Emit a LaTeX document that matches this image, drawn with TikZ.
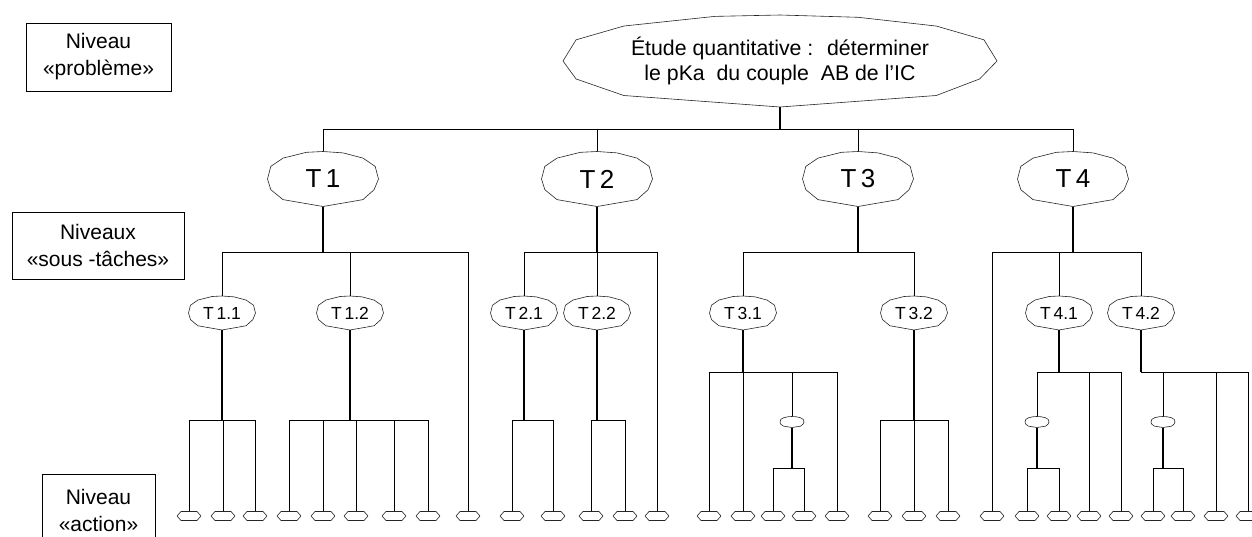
\documentclass[tikz,border=0pt]{standalone}
\usepackage{fontspec}
\setmainfont{Liberation Sans}
\usetikzlibrary{shapes.geometric}
\tikzset{
  lvl/.style={draw, line width=1pt, align=center, inner sep=0pt, font=\fontsize{21}{27}\selectfont},
  pe/.style={ellipse, inner sep=0pt, draw=none},
  topn/.style={pe, minimum width=434pt, minimum height=92pt, align=center, font=\fontsize{21.3}{25}\selectfont},
  tk/.style={pe, minimum width=111pt, minimum height=55pt, font=\fontsize{26}{30}\selectfont},
  sub/.style={pe, minimum width=67pt, minimum height=34pt, font=\fontsize{17.5}{20}\selectfont},
  midn/.style={pe, minimum width=24pt, minimum height=11pt},
  act/.style={rectangle, draw=none, inner sep=0pt, minimum width=24pt, minimum height=9pt},
  line/.style={line width=0.9pt},
  stem/.style={line width=1.6pt},
  outline/.style={line width=0.6pt, draw=black!85, line join=round},
}
% polygonal ellipse outline around a node: name, half width, half height
\newcommand\polyout[3]{\draw[outline, shift={(#1.center)}, xscale=#2, yscale=#3]
  (-1,0) -- (-0.94,-0.46) -- (-0.72,-0.76) -- (-0.30,-0.97) -- (0,-1) -- (0.36,-0.95)
  -- (0.72,-0.76) -- (0.94,-0.46) -- (1,0) -- (0.92,0.39) -- (0.72,0.75) -- (0,1)
  -- (-0.72,0.75) -- (-0.94,0.39) -- cycle;}
\begin{document}
\begin{tikzpicture}[x=1pt,y=-1pt]
\useasboundingbox (0,0) rectangle (1252,536);
\fill[white] (0,0) rectangle (1252,536);

% level labels
\node[lvl, minimum width=145pt, minimum height=68pt] (L1) at (98.5,57) {Niveau\\«problème»};
\node[lvl, minimum width=172pt, minimum height=67pt] (L2) at (98,245.5) {Niveaux\\«sous -tâches»};
\node[lvl, minimum width=113pt, minimum height=72pt] (L3) at (98.5,510) {Niveau\\«action»};

% problem
\node[topn] (P) at (780,61) {Étude quantitative :~ déterminer\\le pKa~ du couple~ AB de l’IC};

% tasks
\node[tk] (T1) at (323,179) {T\,1};
\node[tk] (T2) at (597,179) {T\,2};
\node[tk] (T3) at (858,179) {T\,3};
\node[tk] (T4) at (1073,179) {T\,4};

% sub-tasks
\node[sub] (T11) at (222,313) {T\,1.1};
\node[sub] (T12) at (350,313) {T\,1.2};
\node[sub] (T21) at (524,313) {T\,2.1};
\node[sub] (T22) at (597,313) {T\,2.2};
\node[sub] (T31) at (743,313) {T\,3.1};
\node[sub] (T32) at (914,313) {T\,3.2};
\node[sub] (T41) at (1059,313) {T\,4.1};
\node[sub] (T42) at (1141,313) {T\,4.2};

% intermediate small nodes
\node[midn] (M1) at (792,422) {};
\node[midn] (M2) at (1037,422) {};
\node[midn] (M3) at (1163,422) {};

% actions
\foreach \x [count=\i] in {189,223,255,289,323,356,394,428,468,512,553,591,625,657,709,743,773,804,837,880,914,948,992,1027,1059,1089,1121,1153,1183,1216,1248}
  \node[act] (a\i) at (\x,516) {};

% outlines
\polyout{P}{217}{46}
\foreach \n in {T1,T2,T3,T4} \polyout{\n}{55.5}{27.5};
\foreach \n in {T11,T12,T21,T22,T31,T32,T41,T42} \polyout{\n}{33.5}{17};
\foreach \n in {M1,M2,M3} \polyout{\n}{12}{5.5};
\foreach \i in {1,...,31}
  \draw[outline, shift={(a\i.center)}] (-12,0) -- (-8,-4.5) -- (8,-4.5) -- (12,0) -- (8,4.5) -- (-8,4.5) -- cycle;

% top level
\draw[stem] (P.south) -- (P.south |- 0,129);
\draw[line] (T1.north |- 0,129) -- (T4.north |- 0,129);
\foreach \n in {T1,T2,T3,T4} \draw[line] (\n.north) -- (\n.north |- 0,129);

% T1
\draw[stem] (T1.south) -- (T1.south |- 0,252);
\draw[line] (T11.north |- 0,252) -- (a9.north |- 0,252);
\foreach \n in {T11,T12,a9} \draw[line] (\n.north) -- (\n.north |- 0,252);
\draw[stem] (T11.south) -- (T11.south |- 0,420);
\draw[line] (a1.north |- 0,420) -- (a3.north |- 0,420);
\foreach \i in {1,2,3} \draw[line] (a\i.north) -- (a\i.north |- 0,420);
\draw[stem] (T12.south) -- (T12.south |- 0,420);
\draw[line] (a4.north |- 0,420) -- (a8.north |- 0,420);
\foreach \i in {4,...,8} \draw[line] (a\i.north) -- (a\i.north |- 0,420);

% T2
\draw[stem] (T2.south) -- (T2.south |- 0,252);
\draw[line] (T21.north |- 0,252) -- (a14.north |- 0,252);
\foreach \n in {T21,T22,a14} \draw[line] (\n.north) -- (\n.north |- 0,252);
\draw[stem] (T21.south) -- (T21.south |- 0,420);
\draw[line] (a10.north |- 0,420) -- (a11.north |- 0,420);
\foreach \i in {10,11} \draw[line] (a\i.north) -- (a\i.north |- 0,420);
\draw[stem] (T22.south) -- (T22.south |- 0,420);
\draw[line] (a12.north |- 0,420) -- (a13.north |- 0,420);
\foreach \i in {12,13} \draw[line] (a\i.north) -- (a\i.north |- 0,420);

% T3
\draw[stem] (T3.south) -- (T3.south |- 0,252);
\draw[line] (T31.north |- 0,252) -- (T32.north |- 0,252);
\foreach \n in {T31,T32} \draw[line] (\n.north) -- (\n.north |- 0,252);
\draw[stem] (T31.south) -- (T31.south |- 0,372);
\draw[line] (a15.north |- 0,372) -- (a19.north |- 0,372);
\foreach \n in {a15,a16,a19,M1} \draw[line] (\n.north) -- (\n.north |- 0,372);
\draw[stem] (M1.south) -- (M1.south |- 0,468);
\draw[line] (a17.north |- 0,468) -- (a18.north |- 0,468);
\foreach \i in {17,18} \draw[line] (a\i.north) -- (a\i.north |- 0,468);
\draw[stem] (T32.south) -- (T32.south |- 0,420);
\draw[line] (a20.north |- 0,420) -- (a22.north |- 0,420);
\foreach \i in {20,21,22} \draw[line] (a\i.north) -- (a\i.north |- 0,420);

% T4
\draw[stem] (T4.south) -- (T4.south |- 0,252);
\draw[line] (a23.north |- 0,252) -- (T42.north |- 0,252);
\foreach \n in {a23,T41,T42} \draw[line] (\n.north) -- (\n.north |- 0,252);
\draw[stem] (T41.south) -- (T41.south |- 0,372);
\draw[line] (M2.north |- 0,372) -- (a27.north |- 0,372);
\foreach \n in {M2,a26,a27} \draw[line] (\n.north) -- (\n.north |- 0,372);
\draw[stem] (M2.south) -- (M2.south |- 0,468);
\draw[line] (a24.north |- 0,468) -- (a25.north |- 0,468);
\foreach \i in {24,25} \draw[line] (a\i.north) -- (a\i.north |- 0,468);
\draw[stem] (T42.south) -- (T42.south |- 0,372);
\draw[line] (T42.south |- 0,372) -- (a31.north |- 0,372);
\foreach \n in {M3,a30,a31} \draw[line] (\n.north) -- (\n.north |- 0,372);
\draw[stem] (M3.south) -- (M3.south |- 0,468);
\draw[line] (a28.north |- 0,468) -- (a29.north |- 0,468);
\foreach \i in {28,29} \draw[line] (a\i.north) -- (a\i.north |- 0,468);
\end{tikzpicture}
\end{document}
